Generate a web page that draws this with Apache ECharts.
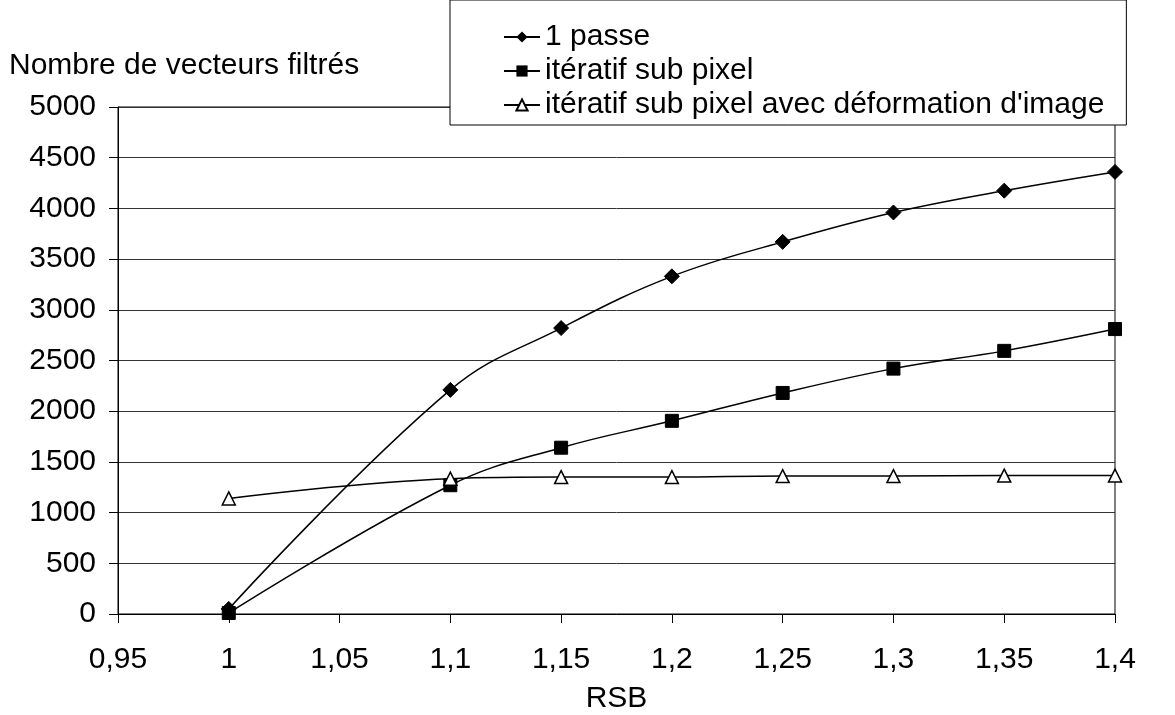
<!DOCTYPE html>
<html>
<head>
<meta charset="utf-8">
<script src="https://cdn.jsdelivr.net/npm/echarts@6/dist/echarts.min.js"></script>
<style>html,body{margin:0;padding:0;background:#fff;}#c{width:1175px;height:715px;}</style>
</head>
<body>
<div id="c"></div>
<script>
var rsb = [1, 1.1, 1.15, 1.2, 1.25, 1.3, 1.35, 1.4];
var passe1 = [50, 2210, 2820, 3330, 3670, 3960, 4175, 4360];
var iteratifSubPixel = [10, 1270, 1640, 1905, 2180, 2420, 2595, 2810];
var iteratifDeformation = [1140, 1335, 1350, 1350, 1360, 1360, 1365, 1365];
var xTickLabels = ['0,95', '1', '1,05', '1,1', '1,15', '1,2', '1,25', '1,3', '1,35', '1,4'];
var seriesNames = ['1 passe', 'itératif sub pixel', 'itératif sub pixel avec déformation d\'image'];
var yTitle = 'Nombre de vecteurs filtrés';
var xTitle = 'RSB';

function pairs(ys) { return rsb.map(function (x, i) { return [x, ys[i]]; }); }

var FONT = 'Liberation Sans';
var FS = 30;
var chart = echarts.init(document.getElementById('c'), null, { renderer: 'canvas' });
chart.setOption({
  animation: false,
  backgroundColor: '#fff',
  textStyle: { fontFamily: FONT, color: '#000' },
  title: {
    text: yTitle, left: 4, top: 46,
    textStyle: { fontFamily: FONT, fontSize: FS, fontWeight: 'normal', color: '#000' }
  },
  grid: {
    left: 118, right: 60, top: 107, bottom: 101, outerBoundsMode: 'none', containLabel: false,
    show: true, borderColor: '#000', borderWidth: 1, backgroundColor: 'transparent'
  },
  legend: {
    left: 450, top: 0, orient: 'vertical', z: 20,
    backgroundColor: '#fff', borderColor: '#000', borderWidth: 1,
    padding: [21, 22, 4, 53], itemGap: 2, itemWidth: 36, itemHeight: 14,
    textStyle: { fontFamily: FONT, fontSize: FS, color: '#000', lineHeight: 32 },
    data: seriesNames
  },
  xAxis: {
    type: 'value', min: 0.95, max: 1.4, interval: 0.05,
    name: xTitle, nameLocation: 'middle', nameGap: 70,
    nameTextStyle: { fontFamily: FONT, fontSize: FS, color: '#000' },
    axisLine: { show: true, onZero: false, lineStyle: { color: '#000', width: 1 } },
    axisTick: { show: true, inside: false, length: 9, lineStyle: { color: '#000' } },
    axisLabel: {
      margin: 31, fontFamily: FONT, fontSize: FS, color: '#000',
      formatter: function (v) { return xTickLabels[Math.round((v - 0.95) / 0.05)]; }
    },
    splitLine: { show: false }
  },
  yAxis: {
    type: 'value', min: 0, max: 5000, interval: 500,
    axisLine: { show: true, lineStyle: { color: '#000', width: 1 } },
    axisTick: { show: true, inside: false, length: 9, lineStyle: { color: '#000' } },
    axisLabel: { margin: 22, fontFamily: FONT, fontSize: FS, color: '#000', formatter: function (v) { return String(v); } },
    splitLine: { show: true, lineStyle: { color: '#333', width: 1 } }
  },
  series: [
    {
      name: seriesNames[0], type: 'line', data: pairs(passe1), smooth: 0.4, clip: false,
      symbol: 'diamond', symbolSize: 15,
      lineStyle: { color: '#000', width: 1.5 }, itemStyle: { color: '#000', borderColor: '#000' }
    },
    {
      name: seriesNames[1], type: 'line', data: pairs(iteratifSubPixel), smooth: 0.4, clip: false,
      symbol: 'rect', symbolSize: 13,
      lineStyle: { color: '#000', width: 1.5 }, itemStyle: { color: '#000', borderColor: '#000' }
    },
    {
      name: seriesNames[2], type: 'line', data: pairs(iteratifDeformation), smooth: 0.4, clip: false,
      symbol: 'triangle', symbolSize: 13, showAllSymbol: true,
      lineStyle: { color: '#000', width: 1.5 }, itemStyle: { color: '#fff', borderColor: '#000', borderWidth: 1.5 }
    }
  ]
});
</script>
</body>
</html>
